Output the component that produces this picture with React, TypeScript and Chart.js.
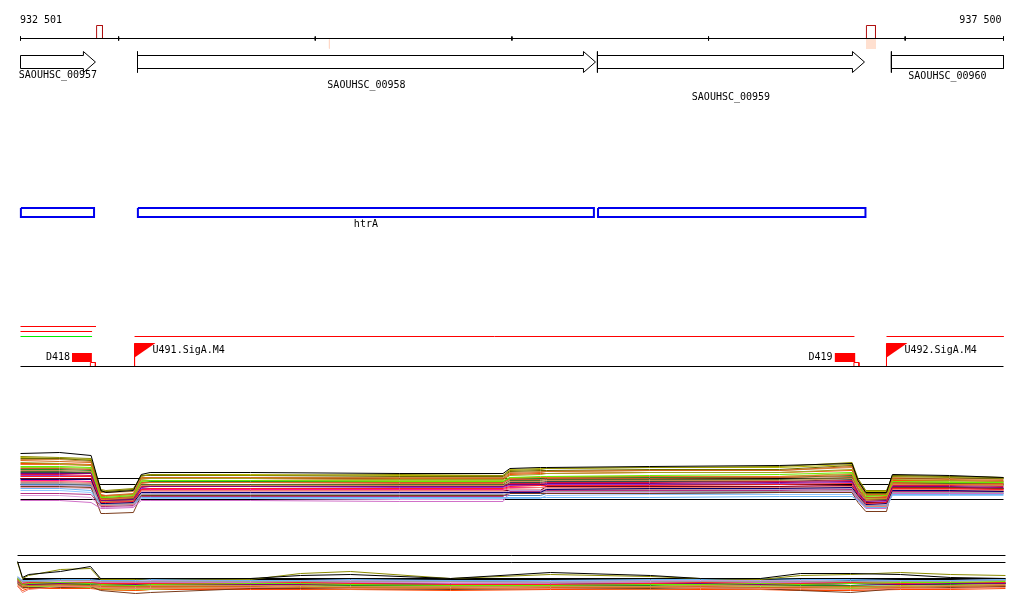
import { useEffect, useRef } from "react";
import { Chart, registerables } from "chart.js";

Chart.register(...registerables);

// ---------- genomic window ----------
const X_MIN = 932501;
const X_MAX = 937500;
const BP_PER_PX = 5.0855;

// ---------- ruler ----------
const RULER_TICKS = [932501, 933000, 934000, 935000, 936000, 937000, 937500];
const RULER_END_LABELS = ["932 501", "937 500"];
const MARK_STARTS = [932888, 936803];
const MARK_ENDS = [932918, 936849];
const PALE_MARKS = [934072];

// ---------- genes ----------
const GENE_NAMES = ["SAOUHSC_00957", "SAOUHSC_00958", "SAOUHSC_00959", "SAOUHSC_00960"];
const GENE_STARTS = [932501, 933096, 935435, 936930];
const GENE_ENDS = [932882, 935425, 936793, 937500];
const GENE_HAS_ARROW = [true, true, true, false];
const GENE_HAS_START_BAR = [false, true, true, true];
const GENE_LABEL_ROWS = [75, 85, 97, 76];

// ---------- operons ----------
const OPERON_NAMES = ["", "htrA", ""];
const OPERON_STARTS = [932503, 933098, 935438];
const OPERON_ENDS = [932875, 935417, 936798];

// ---------- features track ----------
const FEATURE_STARTS = [932501, 932501, 932501, 933081, 936905];
const FEATURE_ENDS = [932885, 932865, 932865, 936742, 937502];
const FEATURE_ROWS = [326, 331, 336, 336, 336];
const FEATURE_COLORS = ["#ff0000", "#ff0000", "#00ee00", "#ff0000", "#ff0000"];

const TERM_NAMES = ["D418", "D419"];
const TERM_STARTS = [932763, 936641];
const TERM_ENDS = [932864, 936747];

const PROM_NAMES = ["U491.SigA.M4", "U492.SigA.M4"];
const PROM_POS = [933081, 936905];

// ---------- expression profiles (upper panel) ----------
const T4_X = [932501, 932700, 932860, 932910, 932935, 933075, 933115, 933160, 933670, 934430, 934955, 934990, 935145, 935175, 935700, 936360, 936730, 936760, 936800, 936905, 936935, 937225, 937500];
const T4_REF_ROWS = [478, 484, 499];
const T4_COLORS = [
  "#000000", "#8b8b00", "#d2691e", "#66ee00", "#a0a020", "#e8702a", "#800080", "#ff2020",
  "#000070", "#a0a0a0", "#f08070", "#6bb5f5", "#d070c8", "#b03080", "#7a3b1b", "#c89050",
  "#6b6b00", "#c85a28", "#b8a0d8", "#700020", "#9acd32", "#8fc8ff", "#e8a0b0", "#556b2f", "#dc143c",
  "#cd853f", "#9932cc", "#228b22", "#ff1493", "#4682b4", "#b5b500", "#ff4500", "#dda0dd", "#2f4f4f", "#bc8f8f",
];
const T4_VALUES = [
  [453, 452, 455, 490, 492, 490, 474, 472, 472, 473, 473, 468, 467, 467, 466, 465, 463, 480, 492, 492, 474, 475, 477],
  [456, 457, 458, 489, 490, 488, 476, 474, 475, 474, 475, 470, 469, 468, 467, 466, 462, 478, 490, 490, 476, 477, 478],
  [460, 461, 462, 494, 495, 493, 477, 477, 477, 478, 478, 473, 472, 471, 470, 470, 466, 483, 494, 494, 478, 479, 480],
  [466, 466, 467, 497, 497, 495, 481, 480, 480, 481, 481, 477, 476, 476, 475, 474, 472, 485, 496, 495, 481, 482, 482],
  [462, 463, 465, 496, 496, 494, 479, 478, 478, 479, 479, 475, 474, 473, 472, 472, 469, 484, 495, 495, 479, 480, 481],
  [464, 464, 465, 499, 499, 497, 483, 482, 482, 483, 483, 478, 477, 477, 476, 476, 474, 487, 499, 498, 483, 484, 484],
  [473, 473, 473, 500, 500, 499, 487, 486, 486, 486, 486, 484, 484, 483, 483, 482, 481, 492, 501, 500, 486, 486, 487],
  [476, 476, 476, 502, 502, 501, 489, 488, 488, 488, 488, 486, 485, 485, 485, 484, 483, 494, 503, 502, 488, 488, 489],
  [479, 479, 479, 503, 503, 502, 492, 492, 492, 492, 492, 492, 492, 489, 488, 488, 487, 495, 504, 503, 490, 490, 491],
  [483, 483, 484, 504, 504, 503, 494, 494, 494, 494, 494, 492, 492, 491, 491, 491, 490, 497, 505, 505, 492, 492, 492],
  [481, 481, 482, 505, 505, 504, 490, 490, 490, 490, 490, 488, 487, 487, 487, 487, 486, 496, 506, 506, 489, 489, 490],
  [488, 488, 490, 505, 505, 504, 497, 497, 497, 497, 497, 497, 497, 497, 497, 496, 496, 500, 507, 507, 494, 494, 494],
  [500, 500, 502, 508, 508, 507, 500, 500, 500, 501, 501, 492, 492, 491, 491, 491, 490, 500, 508, 508, 493, 493, 493],
  [493, 493, 494, 506, 506, 505, 496, 496, 496, 496, 496, 491, 491, 490, 490, 490, 489, 498, 506, 506, 491, 491, 491],
  [486, 486, 487, 513, 513, 512, 495, 495, 495, 495, 495, 493, 493, 493, 493, 492, 492, 502, 511, 511, 487, 487, 488],
  [470, 470, 471, 501, 501, 500, 485, 485, 485, 485, 485, 481, 481, 480, 480, 480, 478, 490, 500, 500, 484, 484, 485],
  [458, 458, 460, 491, 491, 489, 475, 475, 475, 476, 476, 471, 470, 470, 469, 469, 465, 480, 493, 493, 475, 476, 477],
  [468, 468, 469, 498, 498, 496, 482, 482, 482, 482, 482, 479, 479, 478, 478, 477, 476, 488, 497, 497, 482, 482, 483],
  [485, 485, 486, 504, 504, 503, 493, 493, 493, 493, 493, 490, 490, 490, 490, 489, 488, 496, 505, 504, 491, 491, 491],
  [478, 478, 478, 501, 501, 500, 490, 490, 490, 490, 490, 490, 490, 486, 486, 486, 485, 494, 502, 502, 487, 487, 488],
  [467, 467, 468, 497, 497, 496, 480, 480, 480, 480, 480, 477, 477, 476, 476, 476, 473, 487, 498, 498, 481, 481, 482],
  [490, 490, 492, 504, 504, 503, 498, 498, 498, 498, 498, 498, 498, 495, 494, 494, 494, 499, 506, 506, 495, 495, 495],
  [487, 487, 488, 503, 503, 502, 491, 491, 491, 491, 491, 489, 489, 488, 488, 488, 487, 495, 503, 503, 490, 490, 490],
  [471, 471, 472, 500, 500, 498, 484, 484, 484, 484, 484, 480, 480, 479, 479, 479, 477, 489, 499, 499, 483, 483, 484],
  [474, 474, 475, 499, 499, 498, 486, 486, 486, 486, 486, 483, 483, 482, 482, 481, 480, 491, 500, 500, 485, 485, 486],
  [459, 459, 461, 492, 492, 491, 478, 477, 477, 477, 477, 472, 471, 471, 470, 470, 467, 482, 494, 494, 477, 478, 479],
  [475, 475, 476, 501, 501, 500, 488, 488, 488, 487, 487, 485, 485, 484, 484, 483, 482, 493, 502, 501, 487, 487, 488],
  [469, 469, 470, 498, 498, 497, 482, 481, 481, 481, 481, 478, 478, 477, 477, 477, 475, 488, 498, 497, 482, 483, 483],
  [480, 480, 481, 503, 503, 502, 489, 489, 489, 489, 489, 487, 487, 486, 486, 486, 485, 495, 504, 503, 488, 488, 489],
  [484, 484, 485, 504, 504, 503, 495, 495, 495, 495, 495, 495, 495, 493, 493, 492, 492, 498, 506, 505, 493, 493, 493],
  [457, 458, 459, 490, 491, 489, 475, 474, 474, 475, 475, 469, 468, 468, 467, 467, 464, 479, 491, 491, 475, 476, 477],
  [463, 463, 464, 495, 495, 494, 478, 478, 478, 479, 479, 474, 473, 473, 472, 472, 470, 485, 497, 496, 480, 480, 481],
  [495, 495, 497, 507, 507, 506, 498, 498, 498, 499, 499, 493, 493, 492, 492, 492, 491, 499, 507, 507, 492, 492, 492],
  [472, 472, 472, 500, 500, 499, 486, 486, 486, 486, 486, 482, 482, 481, 481, 481, 479, 490, 500, 500, 484, 484, 485],
  [482, 482, 483, 505, 505, 504, 491, 491, 491, 491, 491, 490, 490, 489, 489, 489, 488, 497, 506, 505, 490, 490, 490],
];

// ---------- expression profiles (lower panel) ----------
const T5_X = [932486, 932511, 932542, 932704, 932857, 932908, 933086, 933162, 933670, 933925, 934179, 934688, 935196, 935705, 935959, 936264, 936468, 936722, 936976, 937231, 937510];
const T5_REF_ROWS = [555, 562];
const T5_BASE_ROW = 578;
const T5_COLORS = [
  "#000000", "#8b8b00", "#d2691e", "#66ee00", "#6bb5f5", "#ff2020", "#800080", "#f08070",
  "#7a3b1b", "#c89050", "#d070c8", "#a0a0a0", "#000070", "#9acd32", "#b8a0d8", "#e8702a",
  "#cd853f", "#ff1493", "#4682b4", "#ff4500", "#228b22", "#dda0dd", "#b5b500", "#2f4f4f",
];
const T5_VALUES = [
  [561, 577, 574, 571, 566, 578, 578, 578, 578, 575, 574, 578, 572, 575, 578, 578, 573, 573, 574, 577, 578],
  [562, 578, 575, 569, 568, 579, 579, 578, 579, 573, 571, 578, 574, 576, 578, 579, 575, 574, 572, 574, 575],
  [580, 586, 585, 584, 585, 586, 586, 586, 586, 587, 587, 588, 587, 587, 586, 587, 587, 586, 587, 586, 585],
  [578, 584, 583, 582, 583, 584, 585, 584, 583, 583, 584, 585, 585, 584, 584, 583, 584, 583, 582, 582, 581],
  [576, 580, 580, 579, 579, 580, 580, 579, 580, 580, 579, 580, 580, 579, 579, 578, 579, 579, 580, 580, 579],
  [579, 583, 582, 582, 582, 583, 583, 583, 583, 582, 583, 584, 584, 583, 582, 583, 583, 582, 583, 582, 582],
  [581, 584, 584, 583, 583, 584, 584, 584, 584, 584, 584, 584, 585, 584, 583, 584, 584, 583, 584, 583, 583],
  [585, 592, 589, 586, 586, 587, 588, 588, 587, 587, 588, 588, 588, 587, 587, 588, 588, 589, 588, 588, 587],
  [583, 587, 587, 587, 586, 590, 593, 592, 588, 588, 588, 589, 588, 588, 587, 588, 590, 592, 588, 587, 586],
  [582, 585, 585, 585, 585, 585, 586, 585, 585, 585, 586, 586, 586, 586, 585, 585, 586, 586, 586, 585, 584],
  [580, 582, 582, 582, 582, 582, 582, 582, 582, 582, 582, 583, 583, 582, 582, 582, 582, 582, 583, 583, 582],
  [577, 581, 581, 580, 580, 581, 581, 581, 581, 581, 581, 581, 582, 581, 581, 581, 581, 581, 581, 581, 580],
  [582, 584, 584, 583, 583, 584, 584, 584, 583, 584, 584, 583, 583, 584, 583, 584, 584, 583, 584, 583, 583],
  [579, 585, 586, 586, 587, 588, 589, 589, 585, 585, 587, 586, 586, 586, 585, 586, 587, 588, 586, 585, 584],
  [577, 580, 580, 580, 580, 581, 581, 580, 580, 580, 580, 580, 581, 580, 580, 580, 580, 581, 580, 580, 579],
  [584, 588, 587, 587, 587, 588, 588, 588, 588, 588, 589, 588, 588, 589, 588, 589, 589, 588, 588, 588, 586],
  [583, 586, 586, 586, 586, 587, 587, 587, 587, 586, 587, 587, 588, 587, 586, 587, 587, 588, 587, 586, 585],
  [581, 583, 583, 583, 583, 583, 584, 584, 583, 583, 583, 584, 584, 583, 583, 584, 584, 583, 583, 583, 582],
  [578, 581, 581, 580, 580, 581, 581, 581, 580, 581, 581, 581, 581, 580, 581, 581, 581, 580, 580, 580, 580],
  [586, 590, 588, 588, 588, 589, 590, 589, 589, 589, 589, 590, 589, 589, 589, 589, 590, 590, 589, 589, 588],
  [580, 584, 584, 584, 584, 585, 585, 585, 584, 585, 585, 585, 585, 585, 584, 585, 585, 585, 584, 584, 583],
  [579, 582, 582, 581, 581, 582, 582, 582, 582, 582, 582, 582, 582, 582, 581, 582, 582, 582, 582, 582, 581],
  [578, 585, 586, 585, 586, 589, 590, 589, 586, 584, 583, 585, 586, 586, 585, 585, 586, 587, 585, 584, 583],
  [579, 583, 583, 582, 582, 583, 583, 583, 583, 583, 583, 583, 583, 583, 582, 583, 583, 583, 583, 582, 582],
];

// ---------- layout (rows in pixel units of the y scale) ----------
const RULER_ROW = 38;
const GENE_TOP = 55, GENE_BOTTOM = 68, HEAD_TOP = 51, HEAD_BOTTOM = 72;
const HEAD_PX = 12;
const OPERON_TOP = 207.5, OPERON_BOTTOM = 216.5;
const FEATURE_BASE = 366;

type Pt = { x: number; y: number | null };

function joinSegments(segs: Pt[][]): Pt[] {
  const out: Pt[] = [];
  segs.forEach((s, i) => {
    if (i > 0) out.push({ x: s[0].x, y: null });
    out.push(...s);
  });
  return out;
}

function lineDs(data: Pt[], color: string, width = 1, extra: Record<string, unknown> = {}) {
  return {
    type: "line" as const,
    data,
    borderColor: color,
    backgroundColor: color,
    borderWidth: width,
    pointRadius: 0,
    pointHoverRadius: 0,
    fill: false,
    tension: 0,
    spanGaps: false,
    clip: false,
    ...extra,
  };
}

function fillRect(x0: number, x1: number, top: number, bottom: number, color: string) {
  return lineDs([{ x: x0, y: top }, { x: x1, y: top }], "rgba(0,0,0,0)", 0, {
    fill: { value: bottom },
    backgroundColor: color,
  });
}

function buildDatasets() {
  const ds: any[] = [];
  const px = BP_PER_PX;

  // expression panel (upper)
  T4_VALUES.forEach((vals, i) => {
    ds.push(lineDs(T4_X.map((x, j) => ({ x, y: vals[j] })), T4_COLORS[i % T4_COLORS.length], 1));
  });
  ds.push(lineDs(joinSegments(T4_REF_ROWS.map((r) => [{ x: X_MIN, y: r }, { x: X_MAX, y: r }])), "#000000", 1));

  // expression panel (lower)
  T5_VALUES.forEach((vals, i) => {
    ds.push(lineDs(T5_X.map((x, j) => ({ x, y: vals[j] })), T5_COLORS[i % T5_COLORS.length], 1));
  });
  ds.push(lineDs(joinSegments(T5_REF_ROWS.map((r) => [{ x: T5_X[0], y: r }, { x: T5_X[T5_X.length - 1], y: r }])), "#000000", 1));
  ds.push(lineDs([{ x: T5_X[1], y: T5_BASE_ROW + 0.5 }, { x: T5_X[T5_X.length - 1], y: T5_BASE_ROW + 0.5 }], "#000000", 2));

  // ruler
  const rulerSegs: Pt[][] = [[{ x: X_MIN, y: RULER_ROW }, { x: X_MAX, y: RULER_ROW }]];
  RULER_TICKS.forEach((t) => rulerSegs.push([{ x: t, y: RULER_ROW - 2 }, { x: t, y: RULER_ROW + 2 }]));
  PALE_MARKS.forEach((t) => ds.push(lineDs([{ x: t, y: RULER_ROW + 1 }, { x: t, y: RULER_ROW + 10 }], "#ffd8c8", 1)));
  ds.push(fillRect(MARK_STARTS[1] - px * 0.5, MARK_ENDS[1] + px * 0.5, RULER_ROW + 0.5, RULER_ROW + 10.5, "#ffe0d0"));
  ds.push(lineDs(joinSegments(rulerSegs), "#000000", 1));
  MARK_STARTS.forEach((s, i) => {
    const e = MARK_ENDS[i];
    ds.push(lineDs([{ x: s, y: 25 }, { x: e, y: 25 }, { x: e, y: RULER_ROW }, { x: s, y: RULER_ROW }, { x: s, y: 25 }], "#b01010", 1));
  });

  // genes
  GENE_NAMES.forEach((_, i) => {
    const s = GENE_STARTS[i];
    const e = GENE_ENDS[i];
    const segs: Pt[][] = [];
    if (GENE_HAS_ARROW[i]) {
      const hs = e - HEAD_PX * px;
      const mid = (GENE_TOP + GENE_BOTTOM) / 2;
      segs.push([
        { x: s, y: GENE_TOP }, { x: hs, y: GENE_TOP }, { x: hs, y: HEAD_TOP }, { x: e, y: mid },
        { x: hs, y: HEAD_BOTTOM }, { x: hs, y: GENE_BOTTOM }, { x: s, y: GENE_BOTTOM }, { x: s, y: GENE_TOP },
      ]);
    } else {
      segs.push([
        { x: s, y: GENE_TOP }, { x: e, y: GENE_TOP }, { x: e, y: GENE_BOTTOM }, { x: s, y: GENE_BOTTOM }, { x: s, y: GENE_TOP },
      ]);
    }
    if (GENE_HAS_START_BAR[i]) segs.push([{ x: s, y: HEAD_TOP }, { x: s, y: HEAD_BOTTOM }]);
    ds.push(lineDs(joinSegments(segs), "#000000", 1));
  });

  // operons
  OPERON_STARTS.forEach((s, i) => {
    const e = OPERON_ENDS[i];
    ds.push(lineDs([
      { x: s, y: OPERON_TOP }, { x: e, y: OPERON_TOP }, { x: e, y: OPERON_BOTTOM }, { x: s, y: OPERON_BOTTOM }, { x: s, y: OPERON_TOP },
    ], "#0000ee", 2));
  });

  // feature lines
  FEATURE_STARTS.forEach((s, i) => {
    ds.push(lineDs([{ x: s, y: FEATURE_ROWS[i] }, { x: FEATURE_ENDS[i], y: FEATURE_ROWS[i] }], FEATURE_COLORS[i], 1));
  });
  ds.push(lineDs([{ x: X_MIN, y: FEATURE_BASE }, { x: X_MAX, y: FEATURE_BASE }], "#000000", 1));

  // terminators
  TERM_STARTS.forEach((s, i) => {
    const e = TERM_ENDS[i];
    ds.push(fillRect(s, e, FEATURE_BASE - 13.5, FEATURE_BASE - 4.5, "#ff0000"));
    ds.push(lineDs([
      { x: e - 1.5 * px, y: FEATURE_BASE - 4 }, { x: e + 3.5 * px, y: FEATURE_BASE - 4 },
      { x: e + 3.5 * px, y: FEATURE_BASE }, { x: e - 1.5 * px, y: FEATURE_BASE }, { x: e - 1.5 * px, y: FEATURE_BASE - 4 },
    ], "#ff0000", 1));
  });

  // promoters
  PROM_POS.forEach((p) => {
    ds.push(lineDs([{ x: p, y: FEATURE_BASE - 9 }, { x: p + 21 * px, y: FEATURE_BASE - 23.5 }], "rgba(0,0,0,0)", 0, {
      fill: { value: FEATURE_BASE - 23.5 },
      backgroundColor: "#ff0000",
    }));
    ds.push(lineDs([{ x: p, y: FEATURE_BASE - 23 }, { x: p, y: FEATURE_BASE }], "#ff0000", 1));
  });

  return ds;
}

const labelPlugin = {
  id: "trackLabels",
  afterDatasetsDraw(chart: any) {
    const { ctx, scales } = chart;
    const xs = scales.x;
    const ys = scales.y;
    const X = (v: number) => xs.getPixelForValue(v);
    const Y = (v: number) => ys.getPixelForValue(v);
    ctx.save();
    ctx.font = "10px 'DejaVu Sans Mono', monospace";
    ctx.fillStyle = "#000000";
    ctx.textBaseline = "middle";

    ctx.textAlign = "left";
    ctx.fillText(RULER_END_LABELS[0], X(X_MIN) - 0.5, Y(20));
    ctx.textAlign = "right";
    ctx.fillText(RULER_END_LABELS[1], X(X_MAX) - 2, Y(20));

    ctx.textAlign = "center";
    GENE_NAMES.forEach((n, i) => {
      ctx.fillText(n, (X(GENE_STARTS[i]) + X(GENE_ENDS[i])) / 2, Y(GENE_LABEL_ROWS[i]));
    });
    OPERON_NAMES.forEach((n, i) => {
      if (n) ctx.fillText(n, (X(OPERON_STARTS[i]) + X(OPERON_ENDS[i])) / 2, Y(224));
    });

    ctx.textAlign = "right";
    TERM_NAMES.forEach((n, i) => ctx.fillText(n, X(TERM_STARTS[i]) - 2, Y(FEATURE_BASE - 9)));
    ctx.textAlign = "left";
    PROM_NAMES.forEach((n, i) => ctx.fillText(n, X(PROM_POS[i]) + 18, Y(FEATURE_BASE - 16)));
    ctx.restore();
  },
};

export default function App() {
  const ref = useRef<HTMLCanvasElement | null>(null);
  useEffect(() => {
    if (!ref.current) return;
    const chart = new Chart(ref.current, {
      type: "line",
      data: { datasets: buildDatasets() },
      options: {
        animation: false,
        responsive: false,
        devicePixelRatio: 1,
        events: [],
        layout: { padding: { left: 20, right: 20, top: 0, bottom: 0 } },
        plugins: { legend: { display: false }, tooltip: { enabled: false } },
        scales: {
          x: { type: "linear", display: false, min: X_MIN - BP_PER_PX / 2, max: X_MAX + BP_PER_PX / 2 },
          y: { type: "linear", display: false, min: -0.5, max: 610.5, reverse: true },
        },
      },
      plugins: [labelPlugin],
    });
    return () => chart.destroy();
  }, []);
  return (
    <div style={{ position: "absolute", left: 0, top: 0, width: 1024, height: 611, background: "#ffffff" }}>
      <canvas ref={ref} width={1024} height={611} style={{ display: "block" }} />
    </div>
  );
}
